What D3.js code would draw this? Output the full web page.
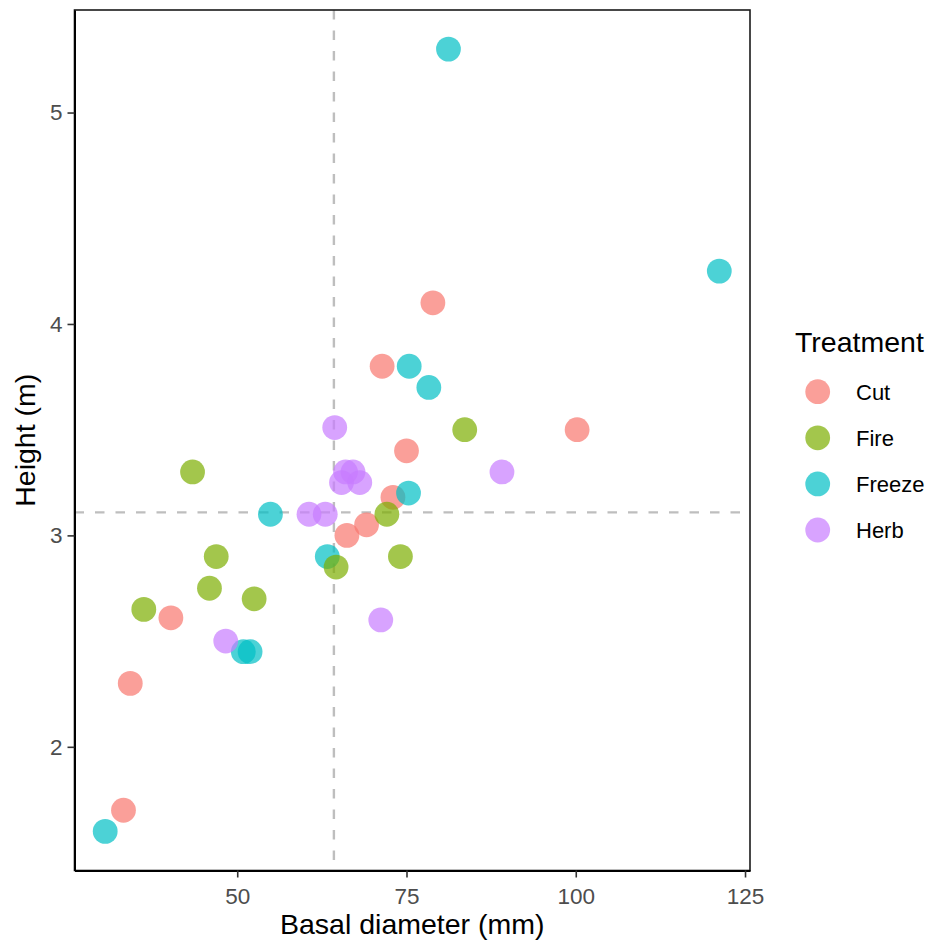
<!DOCTYPE html>
<html>
<head>
<meta charset="utf-8">
<script src="https://cdn.jsdelivr.net/npm/d3@7"></script>
<style>
  html, body { margin: 0; padding: 0; background: #fff; }
  svg { display: block; font-family: "Liberation Sans", Arial, sans-serif; }
</style>
</head>
<body>
<svg id="chart" width="936" height="946"></svg>
<script>
// ---- Data ----
const treatments = ["Cut", "Fire", "Freeze", "Herb"];
const colors = ["#F8766D", "#7CAE00", "#00BFC4", "#C77CFF"];

const cutDiameter    = [78.9, 71.4, 100.2, 75.0, 73.0, 69.1, 66.2, 40.2, 34.2, 33.2];
const cutHeight      = [4.10, 3.80, 3.50, 3.40, 3.18, 3.05, 3.00, 2.61, 2.30, 1.70];

const freezeDiameter = [81.2, 121.2, 75.4, 78.3, 75.3, 54.9, 63.3, 50.9, 51.9, 30.5];
const freezeHeight   = [5.30, 4.25, 3.80, 3.70, 3.20, 3.10, 2.90, 2.45, 2.45, 1.60];

const fireDiameter   = [43.4, 46.9, 45.9, 52.5, 36.2, 83.6, 72.1, 74.1, 64.6];
const fireHeight     = [3.30, 2.90, 2.75, 2.70, 2.65, 3.50, 3.10, 2.90, 2.85];

const herbDiameter   = [64.4, 89.1, 66.0, 67.1, 65.4, 68.1, 60.6, 63.0, 48.3, 71.2];
const herbHeight     = [3.51, 3.30, 3.30, 3.30, 3.25, 3.25, 3.10, 3.10, 2.50, 2.60];

const xTicks = [50, 75, 100, 125];
const yTicks = [2, 3, 4, 5];

// ---- Build rows (drawing order: Cut, Freeze, Fire, Herb) ----
function rows(name, xs, ys) { return xs.map((x, i) => ({ t: name, x: x, y: ys[i] })); }
const data = [].concat(
  rows("Cut", cutDiameter, cutHeight),
  rows("Freeze", freezeDiameter, freezeHeight),
  rows("Fire", fireDiameter, fireHeight),
  rows("Herb", herbDiameter, herbHeight)
);

// ---- Layout ----
const svg = d3.select("#chart");
const P = { left: 74.5, right: 750, top: 10, bottom: 870.5 };

function expanded(ext) { const r = ext[1] - ext[0]; return [ext[0] - 0.05 * r, ext[1] + 0.05 * r]; }
const x = d3.scaleLinear().domain(expanded(d3.extent(data, d => d.x))).range([P.left, P.right]);
const y = d3.scaleLinear().domain(expanded(d3.extent(data, d => d.y))).range([P.bottom, P.top]);
const color = d3.scaleOrdinal().domain(treatments).range(colors);

// reference lines at means
const mx = d3.mean(data, d => d.x), my = d3.mean(data, d => d.y);
svg.append("line")
  .attr("x1", x(mx)).attr("x2", x(mx)).attr("y1", P.top).attr("y2", P.bottom)
  .attr("stroke", "#BEBEBE").attr("stroke-width", 2.4).attr("stroke-dasharray", "9.5,11");
svg.append("line")
  .attr("x1", P.left).attr("x2", P.right).attr("y1", y(my)).attr("y2", y(my))
  .attr("stroke", "#BEBEBE").attr("stroke-width", 2.4).attr("stroke-dasharray", "9.5,11");

// points
svg.append("g").selectAll("circle").data(data).join("circle")
  .attr("cx", d => x(d.x)).attr("cy", d => y(d.y)).attr("r", 12.4)
  .attr("fill", d => color(d.t)).attr("fill-opacity", 0.7);

// panel border
svg.append("rect")
  .attr("x", P.left).attr("y", P.top)
  .attr("width", P.right - P.left).attr("height", P.bottom - P.top)
  .attr("fill", "none").attr("stroke", "#1a1a1a").attr("stroke-width", 1.6);

// axes
const xAxis = svg.append("g").attr("transform", `translate(0,${P.bottom})`)
  .call(d3.axisBottom(x).tickValues(xTicks).tickSizeInner(7).tickSizeOuter(0).tickPadding(5).tickFormat(d3.format("d")));
const yAxis = svg.append("g").attr("transform", `translate(${P.left},0)`)
  .call(d3.axisLeft(y).tickValues(yTicks).tickSizeInner(7).tickSizeOuter(0).tickPadding(5).tickFormat(d3.format("d")));
[xAxis, yAxis].forEach(a => {
  a.select(".domain").attr("stroke", "#000").attr("stroke-width", 2);
  a.selectAll(".tick line").attr("stroke", "#333").attr("stroke-width", 1.6);
  a.selectAll(".tick text").attr("fill", "#4D4D4D").style("font-size", "22.5px")
    .style("font-family", "'Liberation Sans', Arial, sans-serif");
});
xAxis.selectAll(".tick text").attr("dy", "0.95em");

// axis titles
svg.append("text").attr("x", (P.left + P.right) / 2).attr("y", 934)
  .attr("text-anchor", "middle").style("font-size", "28.5px").attr("fill", "#000")
  .text("Basal diameter (mm)");
svg.append("text").attr("transform", `translate(35,${(P.top + P.bottom) / 2}) rotate(-90)`)
  .attr("text-anchor", "middle").style("font-size", "28.5px").attr("fill", "#000")
  .text("Height (m)");

// legend
const lg = svg.append("g");
lg.append("text").attr("x", 795).attr("y", 351.5).style("font-size", "28.5px").attr("fill", "#000")
  .text("Treatment");
treatments.forEach((t, i) => {
  const cy = 391.7 + i * 46.1;
  lg.append("circle").attr("cx", 817.7).attr("cy", cy).attr("r", 12.4)
    .attr("fill", color(t)).attr("fill-opacity", 0.7);
  lg.append("text").attr("x", 856).attr("y", cy + 8).style("font-size", "22px").attr("fill", "#000")
    .text(t);
});
</script>
</body>
</html>
